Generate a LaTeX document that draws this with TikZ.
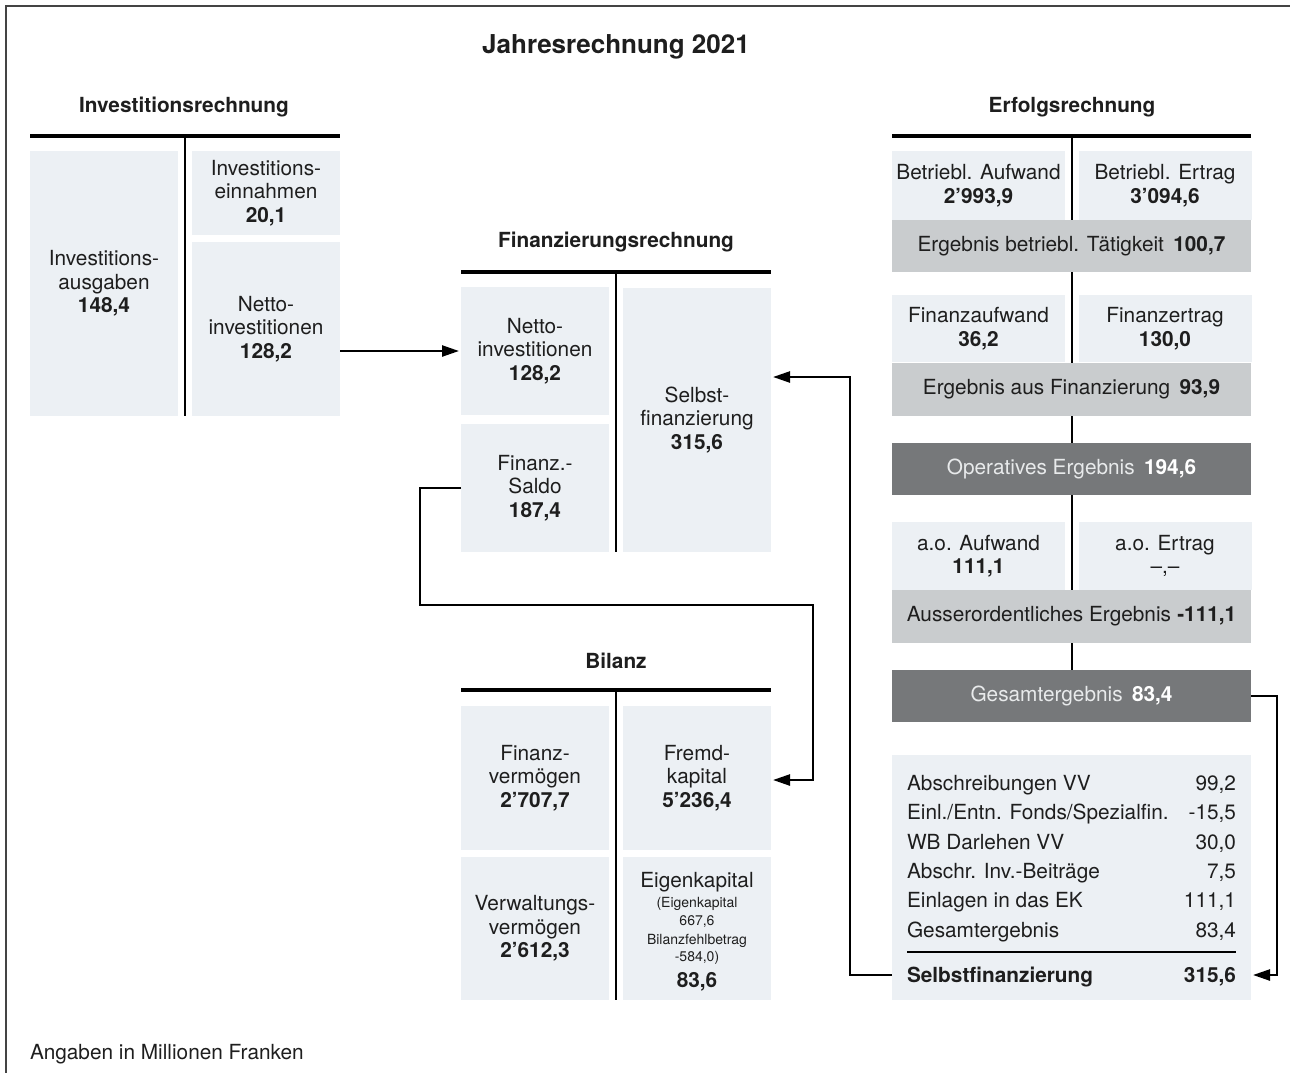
\documentclass[tikz,border=0pt]{standalone}
\usepackage{fontspec}
\setmainfont{TeX Gyre Heros}
\usetikzlibrary{arrows.meta}
\definecolor{boxlight}{HTML}{ECF0F4}
\definecolor{boxmid}{HTML}{C9CCCE}
\definecolor{boxdark}{HTML}{76787A}
\definecolor{txt}{HTML}{1E1E1E}
\definecolor{txtlight}{HTML}{E8EAEB}
\definecolor{framecol}{HTML}{444444}
\newcommand\normtext{\fontsize{20.8}{23.5}\selectfont}
\newcommand\smalltext{\fontsize{14}{18}\selectfont}
\begin{document}
\begin{tikzpicture}[x=1pt,y=-1pt,
  lbox/.style={fill=boxlight, inner sep=0pt, outer sep=0pt, align=center, text=txt, font=\normtext},
  mbar/.style={fill=boxmid, inner sep=0pt, outer sep=0pt, align=center, text=txt, font=\normtext, minimum width=359pt},
  dbar/.style={fill=boxdark, inner sep=0pt, outer sep=0pt, align=center, text=txtlight, font=\normtext, minimum width=359pt},
  colbox/.style={minimum width=148pt},
  pairbox/.style={minimum width=173pt, minimum height=69pt},
  plain/.style={inner sep=0pt, outer sep=0pt, text=txt, font=\normtext},
  small/.style={inner sep=0pt, outer sep=0pt, text=txt, font=\smalltext},
  head/.style={inner sep=0pt, text=txt, font=\bfseries\fontsize{20.8}{24}\selectfont},
  hbar/.style={line width=3.5pt, draw=black},
  vbar/.style={line width=2.5pt, draw=black},
  conn/.style={line width=2.4pt, draw=black},
  arr/.style={conn, -{Triangle[length=17pt,width=11pt]}, shorten >=2pt}
]
\useasboundingbox (0,0) rectangle (1290,1073);
% frame
\draw[framecol, line width=1.5pt] (6,1073) -- (6,6) -- (1290,6);

% title
\node[inner sep=0pt, text=txt, font=\bfseries\fontsize{26}{30}\selectfont] (title) at (616,47) {Jahresrechnung 2021};

% ---------- Investitionsrechnung ----------
\node[head] (hinv) at (184,107) {Investitionsrechnung};
\draw[vbar] (185,136) -- (185,416);
\draw[hbar] (30,136) -- (340,136);
\node[lbox, colbox, minimum height=265pt] (ia) at (104,283.5) {Investitions-\\ausgaben\\\textbf{148,4}};
\node[lbox, colbox, minimum height=84pt] (ie) at (266,193) {Investitions-\\einnahmen\\\textbf{20,1}};
\node[lbox, colbox, minimum height=174pt] (ini) at (266,329) {Netto-\\investitionen\\\textbf{128,2}};

% ---------- Finanzierungsrechnung ----------
\node[head] (hfin) at (616,242) {Finanzierungsrechnung};
\draw[vbar] (616,272) -- (616,552);
\draw[hbar] (461,272) -- (771,272);
\node[lbox, colbox, minimum height=128pt] (fni) at (535,351) {Netto-\\investitionen\\\textbf{128,2}};
\node[lbox, colbox, minimum height=128pt] (fs) at (535,488) {Finanz.-\\Saldo\\\textbf{187,4}};
\node[lbox, colbox, minimum height=264pt] (fsf) at (697,420) {Selbst-\\finanzierung\\\textbf{315,6}};

% ---------- Bilanz ----------
\node[head] (hbil) at (616,661) {Bilanz};
\draw[vbar] (616,690) -- (616,1000);
\draw[hbar] (461,690) -- (771,690);
\node[lbox, colbox, minimum height=144pt] (bfv) at (535,778) {Finanz-\\vermögen\\\textbf{2'707,7}};
\node[lbox, colbox, minimum height=144pt] (bfk) at (697,778) {Fremd-\\kapital\\\textbf{5'236,4}};
\node[lbox, colbox, minimum height=143pt] (bvv) at (535,928.5) {Verwaltungs-\\vermögen\\\textbf{2'612,3}};
\node[lbox, colbox, minimum height=143pt] (bek) at (697,928.5) {};
\node[plain, anchor=base] (ek1) at (697,887) {Eigenkapital};
\node[small, anchor=base] (ek2) at (697,907) {(Eigenkapital};
\node[small, anchor=base] (ek3) at (697,925) {667,6};
\node[small, anchor=base] (ek4) at (697,944) {Bilanzfehlbetrag};
\node[small, anchor=base] (ek5) at (697,961) {-584,0)};
\node[plain, anchor=base, font=\normtext\bfseries] (ek6) at (697,987) {83,6};

% ---------- Erfolgsrechnung ----------
\node[head] (herf) at (1072,107) {Erfolgsrechnung};
\draw[vbar] (1072,136) -- (1072,670);
\draw[hbar] (892,136) -- (1251,136);
\node[lbox, pairbox] (eba) at (978.5,185.5) {Betriebl. Aufwand\\\textbf{2'993,9}};
\node[lbox, pairbox] (ebe) at (1165,185.5) {Betriebl. Ertrag\\\textbf{3'094,6}};
\node[mbar, minimum height=52pt] (ebt) at (1071.5,246) {Ergebnis betriebl. Tätigkeit\hspace{0.45em}\textbf{100,7}};
\node[lbox, pairbox, minimum height=67pt] (efa) at (978.5,328.5) {Finanzaufwand\\\textbf{36,2}};
\node[lbox, pairbox, minimum height=67pt] (efe) at (1165,328.5) {Finanzertrag\\\textbf{130,0}};
\node[mbar, minimum height=53pt] (eaf) at (1071.5,389.5) {Ergebnis aus Finanzierung\hspace{0.45em}\textbf{93,9}};
\node[dbar, minimum height=52pt] (eop) at (1071.5,469) {Operatives Ergebnis\hspace{0.45em}\textbf{\color{white}194,6}};
\node[lbox, pairbox, minimum height=68pt] (eaa) at (978.5,556) {a.o. Aufwand\\\textbf{111,1}};
\node[lbox, pairbox, minimum height=68pt] (eae) at (1165,556) {a.o. Ertrag\\\textendash,\textendash};
\node[mbar, minimum height=53pt] (eao) at (1071.5,616.5) {Ausserordentliches Ergebnis\hspace{0.3em}\textbf{-111,1}};
\node[dbar, minimum height=52pt] (ege) at (1071.5,696) {Gesamtergebnis\hspace{0.45em}\textbf{\color{white}83,4}};

% Selbstfinanzierung table
\node[lbox, minimum width=359pt, minimum height=245pt] (tab) at (1071.5,877.5) {};
\node[plain, anchor=base west] (t1l) at (907,790) {Abschreibungen VV};
\node[plain, anchor=base east] (t1r) at (1236,790) {99,2};
\node[plain, anchor=base west] (t2l) at (907,819) {Einl./Entn. Fonds/Spezialfin.};
\node[plain, anchor=base east] (t2r) at (1236,819) {-15,5};
\node[plain, anchor=base west] (t3l) at (907,849) {WB Darlehen VV};
\node[plain, anchor=base east] (t3r) at (1236,849) {30,0};
\node[plain, anchor=base west] (t4l) at (907,878) {Abschr. Inv.-Beiträge};
\node[plain, anchor=base east] (t4r) at (1236,878) {7,5};
\node[plain, anchor=base west] (t5l) at (907,907) {Einlagen in das EK};
\node[plain, anchor=base east] (t5r) at (1236,907) {111,1};
\node[plain, anchor=base west] (t6l) at (907,937) {Gesamtergebnis};
\node[plain, anchor=base east] (t6r) at (1236,937) {83,4};
\coordinate (rulel) at (907,952);
\coordinate (ruler) at (1236,952);
\draw[line width=1.2pt] (rulel) -- (ruler);
\node[plain, anchor=base west, font=\normtext\bfseries] (t7l) at (907,982) {Selbstfinanzierung};
\node[plain, anchor=base east, font=\normtext\bfseries] (t7r) at (1236,982) {315,6};

% footnote
\node[plain, anchor=base west] (foot) at (30,1059) {Angaben in Millionen Franken};

% ---------- connectors ----------
\coordinate (a1) at (340,351);
\draw[arr] (a1) -- (fni.west |- a1);

\coordinate (s1) at (420,605);
\coordinate (s2) at (813,605);
\coordinate (s3) at (813,780);
\draw[arr] (fs.west) -| (s1) -- (s2) -- (s3) -- (bfk.east |- s3);

\coordinate (g1) at (1277,975);
\coordinate (tabin) at (1251,975);
\draw[arr] (ege.east) -| (g1) -- (tabin);

\coordinate (tabout) at (892,975);
\coordinate (b1) at (850,377);
\draw[arr] (tabout) -| (b1) -- (fsf.east |- b1);
\end{tikzpicture}
\end{document}
